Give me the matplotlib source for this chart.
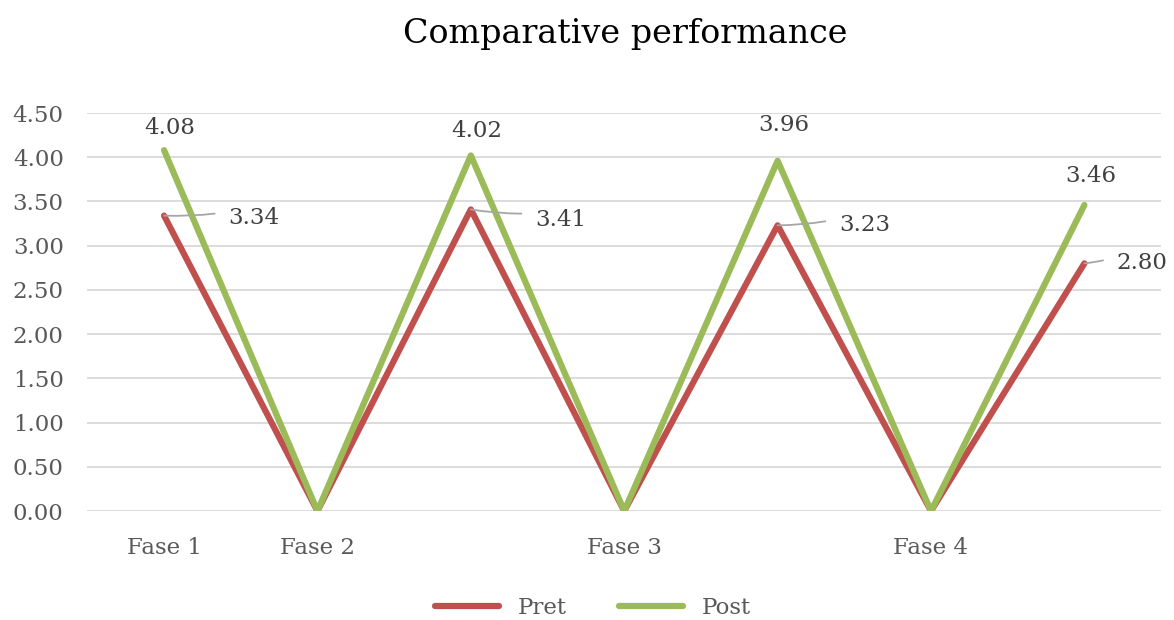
import matplotlib.pyplot as plt
import numpy as np

categories = ["Fase 1", "Fase 2", "", "Fase 3", "", "Fase 4", ""]
pret = [3.34, 0.00, 3.41, 0.00, 3.23, 0.00, 2.80]
post = [4.08, 0.00, 4.02, 0.00, 3.96, 0.00, 3.46]
yticks = np.arange(0, 4.51, 0.5)

red = "#C0504D"
green = "#9BBB59"
txt = "#404040"

plt.rcParams['font.family'] = ['DejaVu Serif']

fig = plt.figure(figsize=(11.74, 6.2), dpi=100)
ax = fig.add_axes([0.0744, 0.1758, 0.9146, 0.6419])

x = np.arange(len(categories))
ax.plot(x, pret, color=red, lw=4.5, solid_capstyle='round', label="Pret", zorder=3)
ax.plot(x, post, color=green, lw=4.5, solid_capstyle='round', label="Post", zorder=3)

ax.set_xlim(-0.5, len(categories) - 0.5)
ax.set_ylim(0, 4.5)
ax.set_yticks(yticks)
ax.set_yticklabels([f"{v:.2f}" for v in yticks])
ax.set_xticks([i for i, c in enumerate(categories) if c])
ax.set_xticklabels([c for c in categories if c])
ax.tick_params(axis='both', length=0, labelsize=16.5, colors="#595959")
ax.tick_params(axis='y', pad=17)
ax.tick_params(axis='x', pad=19)
ax.grid(axis='y', color="#D9D9D9", lw=1.3)
ax.set_axisbelow(True)
for s in ax.spines.values():
    s.set_visible(False)

# Post labels above the points
post_offsets = [0.25, 0.28, 0.40, 0.33]
for (i, v), dy in zip([(i, v) for i, v in enumerate(post) if v > 0], post_offsets):
    ax.text(i + 0.04, v + dy, f"{v:.2f}", ha='center', va='center', fontsize=16.5, color=txt)

# Pret labels to the right with leader lines
pret_offsets = [(0.42, -0.03), (0.42, -0.12), (0.40, 0.0), (0.21, 0.0)]
for (i, v), (dx, dy) in zip([(i, v) for i, v in enumerate(pret) if v > 0], pret_offsets):
    ax.annotate(f"{v:.2f}", xy=(i, v), xytext=(i + dx, v + dy), ha='left', va='center',
                fontsize=16.5, color=txt,
                arrowprops=dict(arrowstyle='-', color="#A6A6A6", lw=1.3, shrinkA=8, shrinkB=0,
                                relpos=(0, 0.8), connectionstyle='arc3,rad=-0.05'))

fig.text(0.533, 0.945, "Comparative performance", ha='center', va='center', fontsize=24, color="#000000")
fig.legend(loc='center', bbox_to_anchor=(0.505, 0.02), ncol=2, frameon=False, fontsize=16.5,
           handlelength=2.8, columnspacing=2.3, labelcolor="#595959")

fig.savefig("out.png", dpi=100)
